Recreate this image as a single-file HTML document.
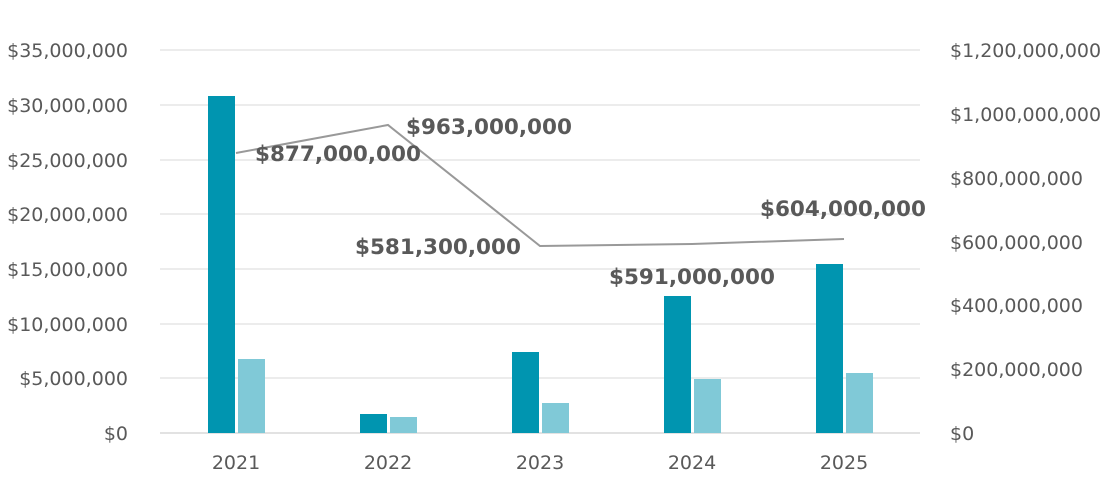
<!DOCTYPE html>
<html><head><meta charset="utf-8"><style>
html,body{margin:0;padding:0;background:#fff;}
svg{display:block;}
text{font-family:"DejaVu Sans","Liberation Sans",sans-serif;fill:#595959;}
.ax{font-size:19px;}
.lb{font-size:21.5px;font-weight:bold;fill:#595959;}
</style></head><body>
<svg width="1112" height="480" viewBox="0 0 1112 480">
<g stroke="#e6e6e6" stroke-width="1.5">
<line x1="160" x2="920" y1="50" y2="50"/><line x1="160" x2="920" y1="105" y2="105"/>
<line x1="160" x2="920" y1="160" y2="160"/><line x1="160" x2="920" y1="214" y2="214"/>
<line x1="160" x2="920" y1="269" y2="269"/><line x1="160" x2="920" y1="324" y2="324"/>
<line x1="160" x2="920" y1="378" y2="378"/>
</g>
<line x1="160" x2="920" y1="433" y2="433" stroke="#d9d9d9" stroke-width="1.5"/>
<g class="ax" text-anchor="end">
<text x="128" y="57">$35,000,000</text><text x="128" y="112">$30,000,000</text>
<text x="128" y="167">$25,000,000</text><text x="128" y="221">$20,000,000</text>
<text x="128" y="276">$15,000,000</text><text x="128" y="331">$10,000,000</text>
<text x="128" y="385">$5,000,000</text><text x="128" y="440">$0</text>
</g>
<g class="ax" text-anchor="start">
<text x="950" y="57">$1,200,000,000</text><text x="950" y="121">$1,000,000,000</text>
<text x="950" y="185">$800,000,000</text><text x="950" y="249">$600,000,000</text>
<text x="950" y="312">$400,000,000</text><text x="950" y="376">$200,000,000</text>
<text x="950" y="440">$0</text>
</g>
<g class="ax" text-anchor="middle">
<text x="236" y="469">2021</text><text x="388" y="469">2022</text><text x="540" y="469">2023</text>
<text x="692" y="469">2024</text><text x="844" y="469">2025</text>
</g>
<g fill="#0095b0">
<rect x="208" y="96" width="27" height="337"/>
<rect x="360" y="414" width="27" height="19"/>
<rect x="512" y="352" width="27" height="81"/>
<rect x="664" y="296" width="27" height="137"/>
<rect x="816" y="264" width="27" height="169"/>
</g>
<g fill="#80c9d7">
<rect x="238" y="359" width="27" height="74"/>
<rect x="390" y="417" width="27" height="16"/>
<rect x="542" y="403" width="27" height="30"/>
<rect x="694" y="379" width="27" height="54"/>
<rect x="846" y="373" width="27" height="60"/>
</g>
<polyline points="236,153 388,125 540,246 692,244 844,239" fill="none" stroke="#999" stroke-width="2"/>
<text class="lb" x="255" y="161">$877,000,000</text>
<text class="lb" x="406" y="134">$963,000,000</text>
<text class="lb" x="355" y="254">$581,300,000</text>
<text class="lb" x="609" y="284">$591,000,000</text>
<text class="lb" x="760" y="216">$604,000,000</text>
</svg>
</body></html>
